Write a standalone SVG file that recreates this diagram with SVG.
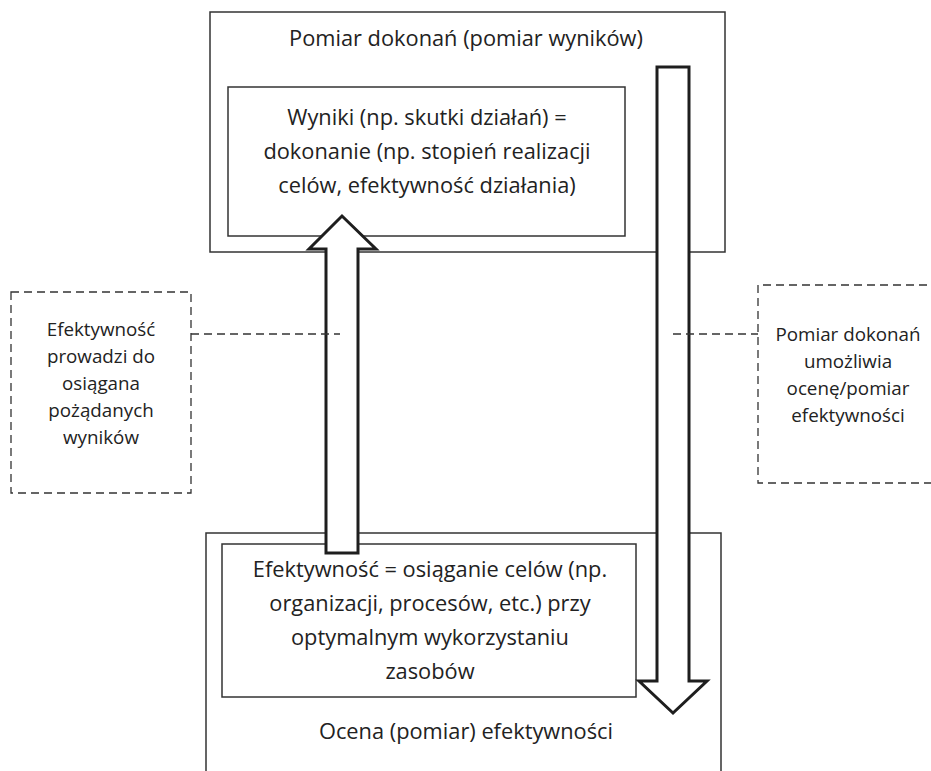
<svg xmlns="http://www.w3.org/2000/svg" width="931" height="771" viewBox="0 0 931 771">
  <style>
    .box { fill: none; stroke: #333333; stroke-width: 1.5; }
    .note { fill: none; stroke: #333333; stroke-width: 1.3; stroke-dasharray: 8 5; }
    .lead { fill: none; stroke: #333333; stroke-width: 1.3; stroke-dasharray: 8 5; }
    .arrow { fill: #ffffff; stroke: #1e1e1e; stroke-width: 3; stroke-linejoin: miter; }
    .t { font-family: "Open Sans", "Liberation Sans", sans-serif; fill: #222222; text-anchor: middle; }
    .big { font-size: 21.8px; }
    .small { font-size: 18.8px; }
  </style>

  <rect width="931" height="771" fill="#ffffff"/>

  <!-- Upper frame: performance measurement -->
  <g id="pomiar-dokonan">
    <rect class="box" x="210" y="12" width="515" height="240"/>
    <text class="t big" x="466" y="46">Pomiar dokonań (pomiar wyników)</text>
  </g>

  <g id="wyniki">
    <rect class="box" x="228" y="87" width="397" height="149"/>
    <text class="t big" x="427" y="125">Wyniki (np. skutki działań) =</text>
    <text class="t big" x="427" y="159">dokonanie (np. stopień realizacji</text>
    <text class="t big" x="427" y="193">celów, efektywność działania)</text>
  </g>

  <!-- Lower frame: efficiency assessment (open at the bottom) -->
  <g id="ocena-efektywnosci">
    <path class="box" d="M206 771 V533 H721 V771"/>
    <text class="t big" x="466" y="739">Ocena (pomiar) efektywności</text>
  </g>

  <g id="efektywnosc">
    <rect class="box" x="222" y="544" width="414" height="153"/>
    <text class="t big" x="430" y="577">Efektywność = osiąganie celów (np.</text>
    <text class="t big" x="430" y="611">organizacji, procesów, etc.) przy</text>
    <text class="t big" x="430" y="645">optymalnym wykorzystaniu</text>
    <text class="t big" x="430" y="679">zasobów</text>
  </g>

  <!-- Side notes -->
  <g id="nota-lewa">
    <rect class="note" x="11" y="292" width="180" height="201"/>
    <text class="t small" x="101" y="336">Efektywność</text>
    <text class="t small" x="101" y="363">prowadzi do</text>
    <text class="t small" x="101" y="390">osiągana</text>
    <text class="t small" x="101" y="417">pożądanych</text>
    <text class="t small" x="101" y="444">wyników</text>
  </g>

  <g id="nota-prawa">
    <path class="note" d="M940 285 H758 V483 H940"/>
    <text class="t small" x="848" y="341">Pomiar dokonań</text>
    <text class="t small" x="848" y="368">umożliwia</text>
    <text class="t small" x="848" y="395">ocenę/pomiar</text>
    <text class="t small" x="848" y="422">efektywności</text>
  </g>

  <!-- Connectors: block arrows and dashed leaders -->
  <g id="connectors">
    <polygon class="arrow" points="326,553 326,249 309,249 342,216 376,249 358,249 358,553"/>
    <polygon class="arrow" points="657,67 689,67 689,681 707,681 673,713 639,681 657,681"/>
    <line class="lead" x1="191" y1="334" x2="340" y2="334"/>
    <line class="lead" x1="673" y1="334" x2="758" y2="334"/>
  </g>
</svg>
